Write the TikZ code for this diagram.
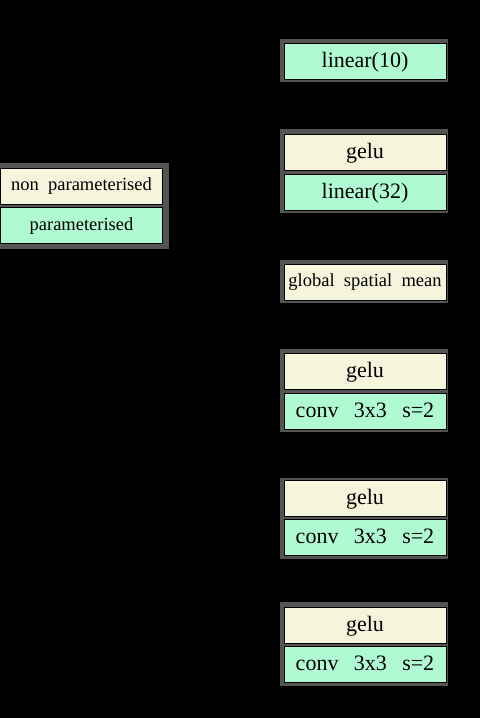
\documentclass[tikz,border=0pt]{standalone}
\usepackage{fontspec}
\setmainfont{Liberation Serif}
\usetikzlibrary{fit,arrows.meta,backgrounds}
\definecolor{cream}{RGB}{245,245,220}
\definecolor{mint}{RGB}{176,250,210}
\definecolor{framegray}{RGB}{84,84,84}
\tikzset{
  blk/.style={draw=black, line width=0.8pt, minimum width=162pt, minimum height=36pt,
    inner sep=0pt, font=\fontsize{22}{26}\selectfont, text height=16pt, text depth=4pt},
  nonp/.style={blk, fill=cream},
  par/.style={blk, fill=mint},
  small/.style={font=\fontsize{18.5}{22}\selectfont, text height=13pt, text depth=4pt},
  grp/.style={fill=framegray, draw=none, inner xsep=0pt, inner ysep=0pt},
  flow/.style={draw=black, line width=0.8pt, -{Latex[length=5pt]}}
}
\begin{document}
\begin{tikzpicture}[x=1pt,y=-1pt]
\useasboundingbox (0,0) rectangle (480,718);
% legend
\node[nonp, small] (lnon) at (81.5,186) {non\hspace{0.5em}parameterised};
\node[par, small] (lpar) at (81.5,225.5) {parameterised};
% network
\node[par] (lin10) at (365,61.5) {linear(10)};
\node[nonp] (gelu1) at (365,152.5) {gelu};
\node[par] (lin32) at (365,192) {linear(32)};
\node[nonp, small] (gsm) at (365,282) {global\hspace{0.5em}spatial\hspace{0.5em}mean};
\node[nonp] (gelu2) at (365,371.5) {gelu};
\node[par] (conv1) at (365,411) {conv\hspace{0.7em}3x3\hspace{0.7em}s=2};
\node[nonp] (gelu3) at (365,498) {gelu};
\node[par] (conv2) at (365,537.5) {conv\hspace{0.7em}3x3\hspace{0.7em}s=2};
\node[nonp] (gelu4) at (365,625) {gelu};
\node[par] (conv3) at (365,664.5) {conv\hspace{0.7em}3x3\hspace{0.7em}s=2};
% group frames
\begin{scope}[on background layer]
\fill[black] (0,0) rectangle (480,718);
\node[grp, fit={([shift={(-4,-5)}]lnon.north west) ([shift={(6,5)}]lpar.south east)}] (flegend) {};
\node[grp, fit={([shift={(-4,-4)}]lin10.north west) ([shift={(2,2)}]lin10.south east)}] (f1) {};
\node[grp, fit={([shift={(-4,-5)}]gelu1.north west) ([shift={(2,3)}]lin32.south east)}] (f2) {};
\node[grp, fit={([shift={(-4,-4)}]gsm.north west) ([shift={(2,3)}]gsm.south east)}] (f3) {};
\node[grp, fit={([shift={(-4,-4)}]gelu2.north west) ([shift={(2,3)}]conv1.south east)}] (f4) {};
\node[grp, fit={([shift={(-4,-2)}]gelu3.north west) ([shift={(2,3)}]conv2.south east)}] (f5) {};
\node[grp, fit={([shift={(-4,-5)}]gelu4.north west) ([shift={(2,3)}]conv3.south east)}] (f6) {};
\end{scope}
% connectors (black, as in the reference)
\draw[flow] (f6.north) -- (f5.south);
\draw[flow] (f5.north) -- (f4.south);
\draw[flow] (f4.north) -- (f3.south);
\draw[flow] (f3.north) -- (f2.south);
\draw[flow] (f2.north) -- (f1.south);
\end{tikzpicture}
\end{document}
